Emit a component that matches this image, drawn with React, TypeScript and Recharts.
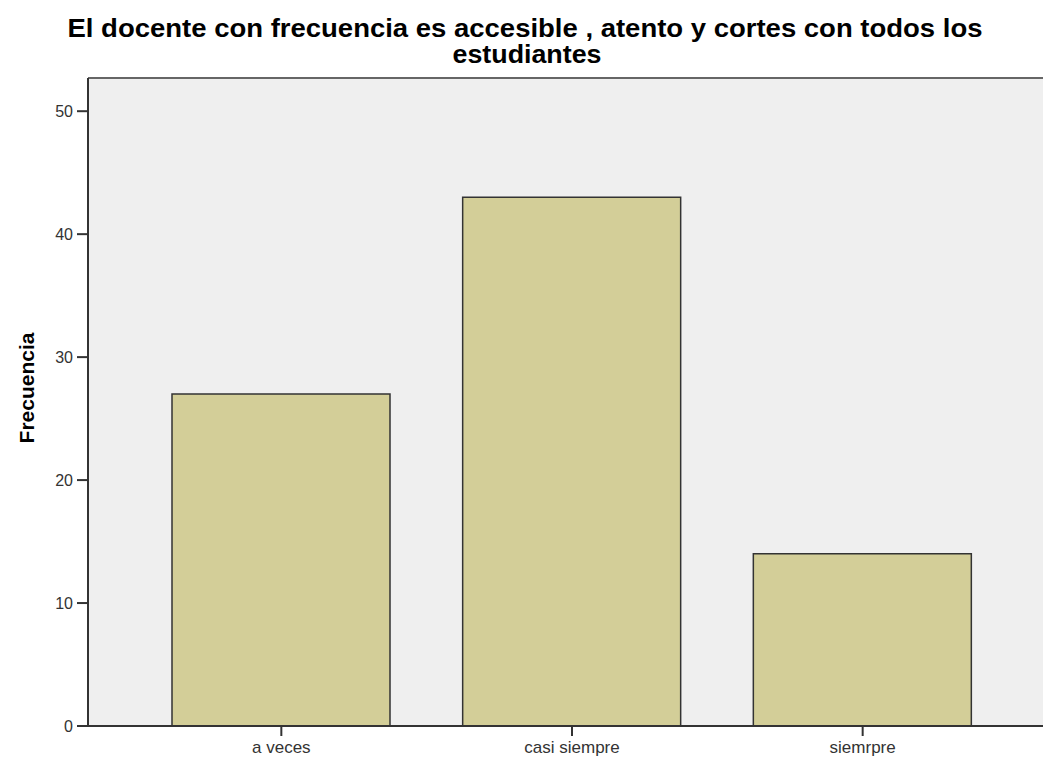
import * as React from 'react';
import {
  BarChart,
  Bar,
  XAxis,
  YAxis,
  CartesianGrid,
  ReferenceLine
} from 'recharts';

const categories = ['a veces', 'casi siempre', 'siemrpre'];
const frecuencias = [27, 43, 14];
const yTicks = [0, 10, 20, 30, 40, 50];
const yMax = 52.7;

const titleLines = [
  'El docente con frecuencia es accesible , atento y cortes con todos los',
  'estudiantes'
];
const yLabel = 'Frecuencia';

const data = categories.map((name, i) => ({ name, value: frecuencias[i] }));

const W = 1043;
const H = 762;
const font = '"Liberation Sans", Arial, sans-serif';

export default function App(): React.ReactElement {
  return (
    <div style={{ position: 'absolute', left: 0, top: 0, width: W, height: H, background: '#fff' }}>
      <BarChart
        width={W}
        height={H}
        data={data}
        margin={{ top: 78, right: 0, bottom: 0, left: 0 }}
        barSize={218}
      >
        <CartesianGrid fill="#EFEFEF" horizontal={false} vertical={false} stroke="none" />
        <ReferenceLine y={yMax} stroke="#666" strokeWidth={2} />
        <XAxis
          dataKey="name"
          height={36}
          padding={{ left: 48, right: 35 }}
          axisLine={{ stroke: '#333', strokeWidth: 2 }}
          tickLine={{ stroke: '#333', strokeWidth: 2 }}
          tickSize={10}
          tickMargin={5}
          tick={{ fontSize: 17, fill: '#333', fontFamily: font }}
        />
        <YAxis
          width={88}
          domain={[0, yMax]}
          ticks={yTicks}
          allowDataOverflow
          axisLine={{ stroke: '#333', strokeWidth: 2 }}
          tickLine={{ stroke: '#333', strokeWidth: 2 }}
          tickSize={11}
          tickMargin={4}
          tick={{ fontSize: 16, fill: '#333', fontFamily: font }}
        />
        <Bar
          dataKey="value"
          fill="#D3CE98"
          stroke="#333"
          strokeWidth={1.5}
          isAnimationActive={false}
        />
      </BarChart>
      <svg
        width={W}
        height={H}
        style={{ position: 'absolute', left: 0, top: 0, pointerEvents: 'none' }}
      >
        <text
          x={525}
          y={37}
          textAnchor="middle"
          fontFamily={font}
          fontWeight="bold"
          fontSize={25}
          fill="#000"
          textLength={915}
          lengthAdjust="spacingAndGlyphs"
        >
          {titleLines[0]}
        </text>
        <text
          x={527}
          y={63}
          textAnchor="middle"
          fontFamily={font}
          fontWeight="bold"
          fontSize={25}
          fill="#000"
          textLength={149}
          lengthAdjust="spacingAndGlyphs"
        >
          {titleLines[1]}
        </text>
        <text
          transform="translate(34, 388) rotate(-90)"
          textAnchor="middle"
          fontFamily={font}
          fontWeight="bold"
          fontSize={21}
          fill="#000"
        >
          {yLabel}
        </text>
      </svg>
    </div>
  );
}
